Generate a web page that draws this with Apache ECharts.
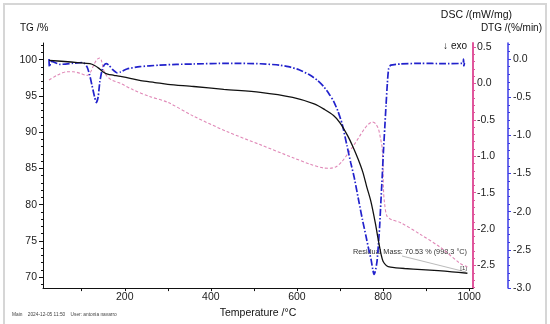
<!DOCTYPE html>
<html><head><meta charset="utf-8">
<script src="https://cdn.jsdelivr.net/npm/echarts@6/dist/echarts.min.js"></script>
<style>html,body{margin:0;padding:0;background:#fff}#c{width:550px;height:324px}</style>
</head><body><div id="c"></div>
<script>
// ---- data ----
const tgData = [[24,99.9],[60,99.75],[90,99.6],[119,99.45],[130,99.2],[140,98.8],[150,98.3],[160,98.0],[175,97.85],[190,97.7],[215,97.4],[237,97.1],[270,96.85],[300,96.6],[360,96.3],[430,95.9],[515,95.5],[590,94.8],[640,93.9],[665,93.1],[685,92.3],[700,91.3],[718,89.5],[730,88.0],[742,86.3],[753,84.5],[762,82.5],[772,80.4],[782,77.5],[790,74.8],[796,73.0],[800,72.2],[806,71.7],[812,71.45],[830,71.3],[850,71.2],[890,71.05],[928,70.9],[960,70.75],[996,70.55]];
const dtgData = [[24,0.0],[25,-0.1],[30,-0.03],[50,-0.07],[80,-0.055],[103,-0.045],[112,-0.1],[118,-0.2],[124,-0.35],[130,-0.5],[134,-0.57],[138,-0.5],[142,-0.3],[147,-0.15],[152,-0.08],[157,-0.06],[163,-0.08],[172,-0.14],[182,-0.18],[190,-0.17],[205,-0.13],[235,-0.10],[280,-0.08],[320,-0.07],[360,-0.065],[440,-0.056],[515,-0.062],[560,-0.08],[580,-0.10],[605,-0.14],[630,-0.21],[648,-0.28],[662,-0.36],[675,-0.46],[685,-0.55],[695,-0.68],[705,-0.85],[716,-1.13],[725,-1.36],[733,-1.55],[744,-1.87],[752,-2.1],[760,-2.31],[767,-2.5],[772,-2.62],[776,-2.75],[779,-2.82],[782,-2.78],[786,-2.65],[789,-2.45],[792,-2.2],[795,-1.87],[798,-1.55],[801,-1.2],[804,-0.9],[807,-0.6],[810,-0.32],[813,-0.13],[818,-0.08],[840,-0.065],[888,-0.056],[940,-0.06],[986,-0.055],[987,0.0],[988,-0.1],[989,-0.05]];
const dscData = [[24,0.045],[42,0.11],[65,0.16],[80,0.16],[96,0.14],[112,0.11],[120,0.15],[126,0.23],[133,0.31],[138,0.34],[142,0.35],[146,0.31],[150,0.2],[155,0.13],[160,0.09],[170,0.045],[190,0.0],[220,-0.09],[258,-0.18],[300,-0.26],[360,-0.45],[437,-0.66],[514,-0.84],[591,-1.02],[631,-1.11],[661,-1.16],[677,-1.165],[692,-1.14],[705,-1.07],[720,-0.95],[733,-0.84],[745,-0.73],[756,-0.63],[766,-0.56],[775,-0.53],[782,-0.55],[789,-0.62],[794,-0.75],[798,-0.89],[800,-1.16],[801,-1.45],[803,-1.62],[809,-1.82],[820,-1.87],[840,-1.91],[886,-2.07],[933,-2.25],[979,-2.47],[996,-2.52]];
const xTickLabels = [200,400,600,800,1000];
const xTicks = [100,200,300,400,500,600,700,800,900,1000];
const tgTickLabels = [70,75,80,85,90,95,100];
const dscTickLabels = [-2.5,-2.0,-1.5,-1.0,-0.5,0.0,0.5];
const dtgTickLabels = [-3.0,-2.5,-2.0,-1.5,-1.0,-0.5,0.0];
const residualText = 'Residual Mass: 70.53 % (998.3 °C)';

// minor tick positions
function range(a,b,s){const r=[];for(let v=a;v<=b+1e-9;v+=s)r.push(Math.round(v*100)/100);return r;}
const tgMinor = range(69,102,1);
const dscMinor = range(-2.8,0.5,0.1);
const dtgMinor = range(-3.0,0.2,0.1);

const FONT = 'Liberation Sans, Arial, sans-serif';
const PINK_AXIS = '#e0569c', BLUE_AXIS = '#3b3be6';
const TG = {min:68.5,max:102.3}, DSC={min:-2.81,max:0.555}, DTG={min:-3.0,max:0.21};

function yAx(o){
  return Object.assign({type:'value',splitLine:{show:false},axisLine:{show:true,onZero:false},
    axisLabel:{fontFamily:FONT,fontSize:10.5,color:'#222'}},o);
}
const chart = echarts.init(document.getElementById('c'),null,{renderer:'canvas'});
chart.setOption({
  animation:false,
  backgroundColor:'#fff',
  grid:{left:43,right:77,top:43,bottom:34},
  xAxis:{type:'value',min:10,max:1009,
    axisLine:{onZero:false,lineStyle:{color:'#111',width:1}},
    splitLine:{show:false},
    axisTick:{customValues:xTicks,length:3,lineStyle:{color:'#111'}},
    axisLabel:{customValues:xTickLabels,fontFamily:FONT,fontSize:10.5,color:'#222',margin:4,formatter:v=>String(v)},
    name:'Temperature /°C',nameLocation:'middle',nameGap:15,
    nameTextStyle:{fontFamily:FONT,fontSize:10.5,color:'#111'}},
  yAxis:[
    yAx({position:'left',min:TG.min,max:TG.max,axisLine:{show:true,onZero:false,lineStyle:{color:'#111'}},
      axisTick:{customValues:tgTickLabels,length:4,lineStyle:{color:'#111'}},
      axisLabel:{customValues:tgTickLabels,fontFamily:FONT,fontSize:10.5,color:'#222',margin:6,formatter:v=>String(v)}}),
    yAx({position:'right',offset:0,min:DSC.min,max:DSC.max,axisLine:{show:true,onZero:false,lineStyle:{color:PINK_AXIS,width:2}},
      axisTick:{customValues:dscTickLabels,length:3,lineStyle:{color:PINK_AXIS}},
      axisLabel:{customValues:dscTickLabels,fontFamily:FONT,fontSize:10.5,color:'#222',margin:4,formatter:v=>v.toFixed(1)}}),
    yAx({position:'right',offset:35,min:DTG.min,max:DTG.max,axisLine:{show:true,onZero:false,lineStyle:{color:BLUE_AXIS,width:1.5}},
      axisTick:{customValues:dtgTickLabels,length:3,lineStyle:{color:BLUE_AXIS}},
      axisLabel:{customValues:dtgTickLabels,fontFamily:FONT,fontSize:10.5,color:'#222',margin:5,formatter:v=>v.toFixed(1)}}),
    yAx({position:'left',min:TG.min,max:TG.max,axisLine:{show:false},axisLabel:{show:false},
      axisTick:{customValues:tgMinor,length:2,lineStyle:{color:'#111'}}}),
    yAx({position:'right',offset:0,min:DSC.min,max:DSC.max,axisLine:{show:false},axisLabel:{show:false},
      axisTick:{customValues:dscMinor,length:2,lineStyle:{color:PINK_AXIS}}}),
    yAx({position:'right',offset:35,min:DTG.min,max:DTG.max,axisLine:{show:false},axisLabel:{show:false},
      axisTick:{customValues:dtgMinor,length:2,lineStyle:{color:BLUE_AXIS}}})
  ],
  series:[
    {type:'line',name:'DSC',yAxisIndex:1,data:dscData,symbol:'none',smooth:0.3,
      lineStyle:{color:'#e088b7',width:1.1,type:[3,2]}},
    {type:'line',name:'DTG',yAxisIndex:2,data:dtgData,symbol:'none',smooth:0.2,
      lineStyle:{color:'#2222cc',width:1.7,type:[7,2,1.5,2]}},
    {type:'line',name:'TG',yAxisIndex:0,data:tgData,symbol:'none',smooth:0.3,
      lineStyle:{color:'#111',width:1.3}}
  ],
  graphic:[
    {type:'rect',shape:{x:4,y:4,width:542,height:330},style:{fill:'none',stroke:'#d6d6d6',lineWidth:2},silent:true,z:-1},
    {type:'text',x:20,y:28,style:{text:'TG /%',font:'10px '+FONT,fill:'#111',textVerticalAlign:'middle'}},
    {type:'text',x:512,y:15,style:{text:'DSC /(mW/mg)',font:'10.5px '+FONT,fill:'#111',textAlign:'right',textVerticalAlign:'middle'}},
    {type:'text',x:542,y:28,style:{text:'DTG /(%/min)',font:'10px '+FONT,fill:'#111',textAlign:'right',textVerticalAlign:'middle'}},
    {type:'text',x:467,y:46,style:{text:'↓ exo',font:'10px '+FONT,fill:'#111',textAlign:'right',textVerticalAlign:'middle'}},
    {type:'line',shape:{x1:402,y1:256,x2:466,y2:272},style:{stroke:'#aaa',lineWidth:0.8}},
    {type:'text',x:467,y:252,style:{text:residualText,font:'7.3px '+FONT,fill:'#333',textAlign:'right',textVerticalAlign:'middle'}},
    {type:'text',x:467,y:268,style:{text:'[1]',font:'6px '+FONT,fill:'#333',textAlign:'right',textVerticalAlign:'middle'}},
    {type:'text',x:12,y:315,style:{text:'Main    2024-12-05 11:50    User: antonia navarro',font:'4.8px '+FONT,fill:'#444',textVerticalAlign:'middle'}}
  ]
});
</script></body></html>
